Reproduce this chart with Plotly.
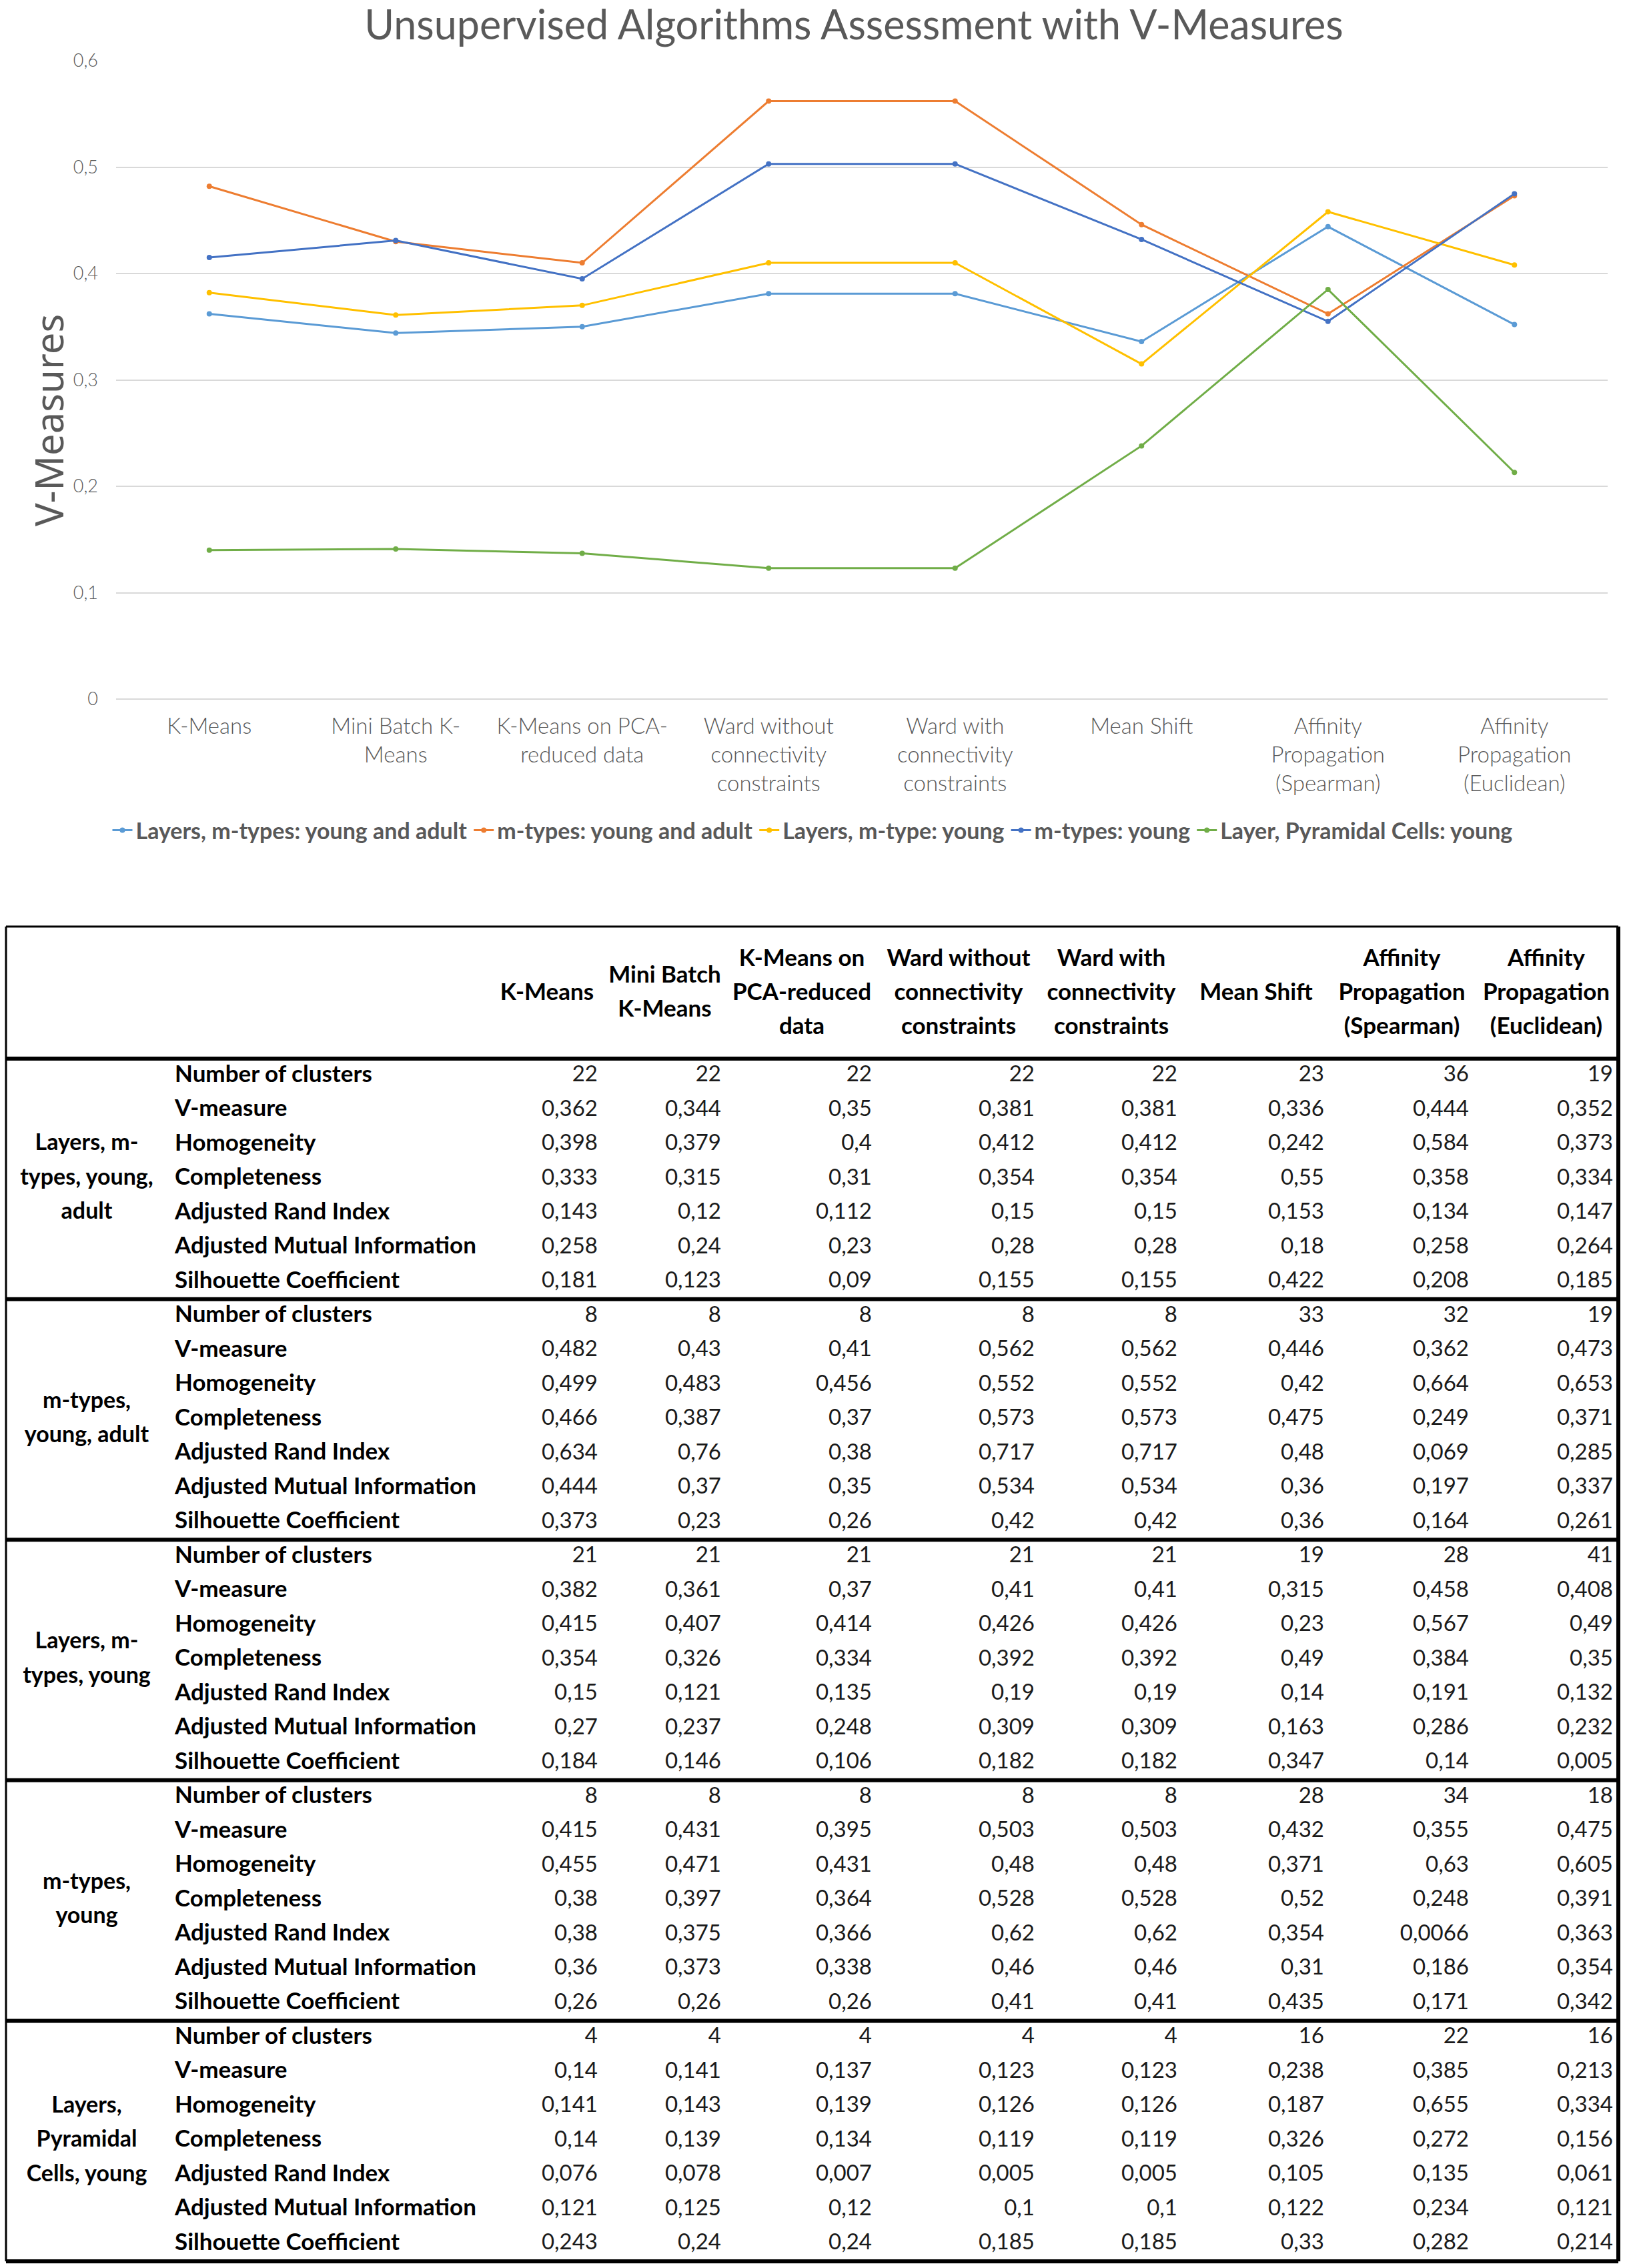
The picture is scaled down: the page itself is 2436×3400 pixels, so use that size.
import plotly.graph_objects as go

# ---------------- DATA ----------------
algorithms = ["K-Means", "Mini Batch K-Means", "K-Means on PCA-reduced data",
              "Ward without connectivity constraints", "Ward with connectivity constraints",
              "Mean Shift", "Affinity Propagation (Spearman)", "Affinity Propagation (Euclidean)"]
chart_tick_labels = ["K-Means", "Mini Batch K-<br>Means", "K-Means on PCA-<br>reduced data",
                     "Ward without<br>connectivity<br>constraints", "Ward with<br>connectivity<br>constraints",
                     "Mean Shift", "Affinity<br>Propagation<br>(Spearman)", "Affinity<br>Propagation<br>(Euclidean)"]
table_headers = [["K-Means"], ["Mini Batch", "K-Means"], ["K-Means on", "PCA-reduced", "data"],
                 ["Ward without", "connectivity", "constraints"], ["Ward with", "connectivity", "constraints"],
                 ["Mean Shift"], ["Affinity", "Propagation", "(Spearman)"], ["Affinity", "Propagation", "(Euclidean)"]]
metrics = ["Number of clusters", "V-measure", "Homogeneity", "Completeness",
           "Adjusted Rand Index", "Adjusted Mutual Information", "Silhouette Coefficient"]

series_names = ["Layers, m-types: young and adult", "m-types: young and adult",
                "Layers, m-type: young", "m-types: young", "Layer, Pyramidal Cells: young"]
group_labels = [["Layers, m-", "types, young,", "adult"], ["m-types,", "young, adult"],
                ["Layers, m-", "types, young"], ["m-types,", "young"],
                ["Layers,", "Pyramidal", "Cells, young"]]

layers_mtypes_young_adult = [
    [22, 22, 22, 22, 22, 23, 36, 19],
    [0.362, 0.344, 0.35, 0.381, 0.381, 0.336, 0.444, 0.352],
    [0.398, 0.379, 0.4, 0.412, 0.412, 0.242, 0.584, 0.373],
    [0.333, 0.315, 0.31, 0.354, 0.354, 0.55, 0.358, 0.334],
    [0.143, 0.12, 0.112, 0.15, 0.15, 0.153, 0.134, 0.147],
    [0.258, 0.24, 0.23, 0.28, 0.28, 0.18, 0.258, 0.264],
    [0.181, 0.123, 0.09, 0.155, 0.155, 0.422, 0.208, 0.185],
]
mtypes_young_adult = [
    [8, 8, 8, 8, 8, 33, 32, 19],
    [0.482, 0.43, 0.41, 0.562, 0.562, 0.446, 0.362, 0.473],
    [0.499, 0.483, 0.456, 0.552, 0.552, 0.42, 0.664, 0.653],
    [0.466, 0.387, 0.37, 0.573, 0.573, 0.475, 0.249, 0.371],
    [0.634, 0.76, 0.38, 0.717, 0.717, 0.48, 0.069, 0.285],
    [0.444, 0.37, 0.35, 0.534, 0.534, 0.36, 0.197, 0.337],
    [0.373, 0.23, 0.26, 0.42, 0.42, 0.36, 0.164, 0.261],
]
layers_mtypes_young = [
    [21, 21, 21, 21, 21, 19, 28, 41],
    [0.382, 0.361, 0.37, 0.41, 0.41, 0.315, 0.458, 0.408],
    [0.415, 0.407, 0.414, 0.426, 0.426, 0.23, 0.567, 0.49],
    [0.354, 0.326, 0.334, 0.392, 0.392, 0.49, 0.384, 0.35],
    [0.15, 0.121, 0.135, 0.19, 0.19, 0.14, 0.191, 0.132],
    [0.27, 0.237, 0.248, 0.309, 0.309, 0.163, 0.286, 0.232],
    [0.184, 0.146, 0.106, 0.182, 0.182, 0.347, 0.14, 0.005],
]
mtypes_young = [
    [8, 8, 8, 8, 8, 28, 34, 18],
    [0.415, 0.431, 0.395, 0.503, 0.503, 0.432, 0.355, 0.475],
    [0.455, 0.471, 0.431, 0.48, 0.48, 0.371, 0.63, 0.605],
    [0.38, 0.397, 0.364, 0.528, 0.528, 0.52, 0.248, 0.391],
    [0.38, 0.375, 0.366, 0.62, 0.62, 0.354, 0.0066, 0.363],
    [0.36, 0.373, 0.338, 0.46, 0.46, 0.31, 0.186, 0.354],
    [0.26, 0.26, 0.26, 0.41, 0.41, 0.435, 0.171, 0.342],
]
layers_pyramidal_young = [
    [4, 4, 4, 4, 4, 16, 22, 16],
    [0.14, 0.141, 0.137, 0.123, 0.123, 0.238, 0.385, 0.213],
    [0.141, 0.143, 0.139, 0.126, 0.126, 0.187, 0.655, 0.334],
    [0.14, 0.139, 0.134, 0.119, 0.119, 0.326, 0.272, 0.156],
    [0.076, 0.078, 0.007, 0.005, 0.005, 0.105, 0.135, 0.061],
    [0.121, 0.125, 0.12, 0.1, 0.1, 0.122, 0.234, 0.121],
    [0.243, 0.24, 0.24, 0.185, 0.185, 0.33, 0.282, 0.214],
]
groups = [layers_mtypes_young_adult, mtypes_young_adult, layers_mtypes_young,
          mtypes_young, layers_pyramidal_young]
series_colors = ["#5B9BD5", "#ED7D31", "#FFC000", "#4472C4", "#70AD47"]

# ---------------- LAYOUT CONSTANTS (pixels) ----------------
W, H = 2436, 3400
PLOT_L, PLOT_R, PLOT_T, PLOT_B = 174, 2410, 91, 1048
GRAY = "#595959"
FONT = "Lato"

TBL_TOP, HDR_BOTTOM, GROUP_H = 1389, 1587, 360.6
ROW_H = GROUP_H / 7
HDR_CENTER, HDR_LINE = 1490, 51
col_edges = [9, 251, 736, 904, 1089, 1315, 1559, 1773, 1993, 2210, 2426]
TFONT_B = 35
TFONT_N = 33

fig = go.Figure()

# ---------------- LINE CHART ----------------
for name, grp, color in zip(series_names, groups, series_colors):
    fig.add_trace(go.Scatter(
        x=algorithms, y=grp[1], name=name, mode="lines+markers",
        line=dict(color=color, width=3), marker=dict(color=color, size=8),
        xaxis="x", yaxis="y"))

# ---------------- TABLE (text traces on a pixel-scaled axis pair) ----------------
def row_y(g, r):
    return HDR_BOTTOM + g * GROUP_H + (r + 0.5) * ROW_H

hx, hy, ht = [], [], []
for i, lines in enumerate(table_headers):
    cx = (col_edges[i + 2] + col_edges[i + 3]) / 2
    n = len(lines)
    for k, t in enumerate(lines):
        hx.append(cx); hy.append(HDR_CENTER + (k - (n - 1) / 2) * HDR_LINE); ht.append(t)
fig.add_trace(go.Scatter(x=hx, y=hy, text=ht, mode="text", textposition="middle center",
                         textfont=dict(family=FONT, size=TFONT_B, color="#000000", weight="bold"),
                         xaxis="x2", yaxis="y2", showlegend=False, hoverinfo="skip"))

gx, gy, gt = [], [], []
mx, my, mt = [], [], []
nx, ny, nt = [], [], []
for g, grp in enumerate(groups):
    lines = group_labels[g]
    n = len(lines)
    for k, t in enumerate(lines):
        gx.append((col_edges[0] + col_edges[1]) / 2)
        gy.append(row_y(g, 3) + (k - (n - 1) / 2) * ROW_H)
        gt.append(t)
    for r, mname in enumerate(metrics):
        mx.append(col_edges[1] + 11); my.append(row_y(g, r)); mt.append(mname)
        for c, v in enumerate(grp[r]):
            nx.append(col_edges[c + 3] - 8); ny.append(row_y(g, r))
            nt.append(str(v).replace(".", ","))

fig.add_trace(go.Scatter(x=gx, y=gy, text=gt, mode="text", textposition="middle center",
                         textfont=dict(family=FONT, size=34, color="#000000", weight="bold"),
                         xaxis="x2", yaxis="y2", showlegend=False, hoverinfo="skip"))
fig.add_trace(go.Scatter(x=mx, y=my, text=mt, mode="text", textposition="middle right",
                         textfont=dict(family=FONT, size=TFONT_B, color="#000000", weight="bold"),
                         xaxis="x2", yaxis="y2", showlegend=False, hoverinfo="skip"))
fig.add_trace(go.Scatter(x=nx, y=ny, text=nt, mode="text", textposition="middle left",
                         textfont=dict(family=FONT, size=TFONT_N, color="#1a1a1a"),
                         xaxis="x2", yaxis="y2", showlegend=False, hoverinfo="skip"))

shapes = []
def hline(y, w):
    shapes.append(dict(type="line", xref="x2", yref="y2", x0=col_edges[0], x1=col_edges[-1],
                       y0=y, y1=y, line=dict(color="#000000", width=w)))
def vline(x, w):
    shapes.append(dict(type="line", xref="x2", yref="y2", x0=x, x1=x,
                       y0=TBL_TOP, y1=HDR_BOTTOM + 5 * GROUP_H, line=dict(color="#000000", width=w)))
hline(TBL_TOP, 3)
for g in range(6):
    hline(HDR_BOTTOM + g * GROUP_H, 6)
vline(col_edges[0], 3)
vline(col_edges[-1], 6)

# ---------------- LAYOUT ----------------
fig.update_layout(
    width=W, height=H, margin=dict(l=0, r=0, t=0, b=0, autoexpand=False),
    paper_bgcolor="white", plot_bgcolor="rgba(0,0,0,0)",
    separators=",.",
    shapes=shapes,
    title=dict(text="Unsupervised Algorithms Assessment with V-Measures",
               x=1280 / W, xanchor="center", y=1 - 38 / H, yanchor="middle",
               font=dict(family=FONT, size=61, color=GRAY, weight=400)),
    xaxis=dict(domain=[PLOT_L / W, PLOT_R / W], anchor="y", type="category",
               tickvals=algorithms, ticktext=chart_tick_labels,
               tickfont=dict(family=FONT, size=33, color=GRAY, weight=300),
               showgrid=False, showline=False, zeroline=False, ticks="",
               ticklabelstandoff=18, range=[-0.5, 7.5], automargin=False),
    yaxis=dict(domain=[1 - PLOT_B / H, 1 - PLOT_T / H], anchor="x", range=[0, 0.6],
               dtick=0.1, tick0=0, showgrid=True, gridcolor="#D9D9D9", gridwidth=2,
               zeroline=True, zerolinecolor="#D9D9D9", zerolinewidth=2,
               showline=False, ticks="", ticklabelstandoff=26, automargin=False,
               tickfont=dict(family=FONT, size=27, color=GRAY, weight=300)),
    xaxis2=dict(domain=[0, 1], anchor="y2", range=[0, W], visible=False, fixedrange=True),
    yaxis2=dict(domain=[0, 1], anchor="x2", range=[H, 0], visible=False, fixedrange=True),
    legend=dict(orientation="h", x=0.5, xanchor="center", y=1 - 1245 / H, yanchor="middle",
                font=dict(family=FONT, size=34, color=GRAY, weight="bold"),
                itemwidth=30, bgcolor="rgba(0,0,0,0)"),
    annotations=[dict(text="V-Measures", textangle=-90, xref="paper", yref="paper",
                      x=72 / W, y=1 - 630 / H, xanchor="center", yanchor="middle",
                      showarrow=False, font=dict(family="Noto Sans", size=58, color=GRAY))],
)

fig.write_html("out.html", config={"displayModeBar": False},
               post_script="document.body.style.margin='0px';")
